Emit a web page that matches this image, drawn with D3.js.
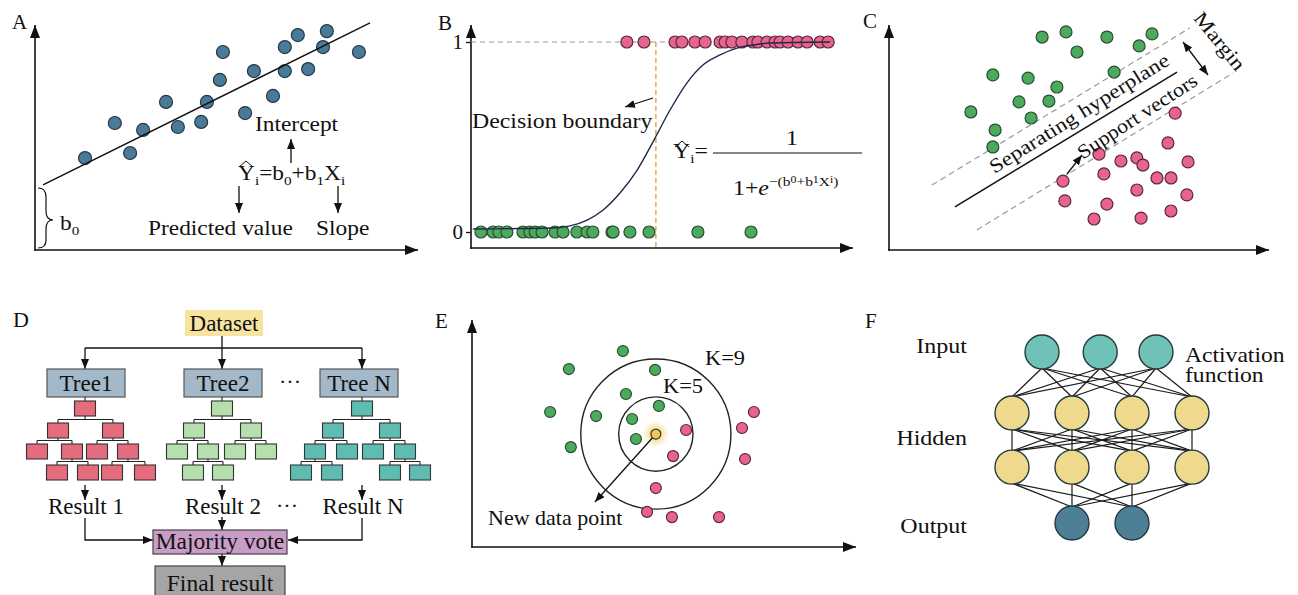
<!DOCTYPE html>
<html>
<head>
<meta charset="utf-8">
<script src="https://cdn.jsdelivr.net/npm/d3@7"></script>
<style>
  body { margin: 0; background: #fff; }
  svg { display: block; }
  text { font-family: "Liberation Serif", "Times New Roman", serif; fill: #111; }
</style>
</head>
<body>
<div id="chart"></div>
<script>
// ---- Panel A: linear regression points ----
var regX = [13.1, 20.9, 24.9, 28.3, 34.3, 37.4, 43.5, 45.0, 48.4, 49.2, 55.0, 57.3, 62.3, 65.4, 65.4, 68.8, 71.5, 75.4, 76.4, 84.8];
var regY = [41.4, 57.2, 43.7, 54.1, 66.7, 55.4, 57.7, 66.7, 76.6, 89.2, 61.7, 80.6, 69.4, 80.6, 91.4, 96.8, 81.5, 91.4, 98.6, 89.2];
var regLineX = [2.1, 87.7];
var regLineY = [29.3, 102.3];

// ---- Panel B: logistic regression ----
var classZeroX = [2.6, 5.8, 7.3, 9.4, 13.6, 15.4, 16.8, 18.6, 22.0, 24.1, 27.7, 30.4, 31.9, 36.9, 37.2, 41.6, 46.6, 59.4, 73.3];
var classOneX = [40.8, 45.3, 53.4, 55.2, 58.6, 61.3, 65.2, 66.5, 68.3, 70.9, 73.8, 75.1, 77.5, 79.6, 80.9, 83.0, 85.6, 88.0, 91.4, 93.5];
var sigmoidX = [0.5, 21.5, 25.9, 30.4, 34.6, 39.0, 43.5, 47.9, 52.1, 56.5, 60.7, 65.2, 69.6, 73.8, 78.3, 94.0];
var sigmoidP = [0.016, 0.021, 0.032, 0.063, 0.116, 0.205, 0.326, 0.484, 0.642, 0.784, 0.879, 0.932, 0.968, 0.984, 0.995, 1.0];
var boundaryX = 48.4;
var yTicksB = [0, 1];

// ---- Panel C: SVM ----
var svmGreenX = [40.4, 46.7, 49.6, 57.5, 66.0, 69.4, 27.4, 36.7, 44.3, 59.4, 34.3, 42.2, 21.6, 37.5, 28.0, 27.4];
var svmGreenY = [95.5, 97.8, 88.8, 95.5, 91.5, 96.9, 78.5, 77.1, 73.1, 79.8, 66.4, 66.8, 61.9, 59.2, 53.8, 46.2];
var svmPinkX = [75.5, 73.6, 55.4, 61.2, 65.4, 67.0, 78.9, 56.7, 70.7, 74.4, 45.9, 65.4, 78.6, 46.4, 57.5, 74.4, 54.1, 66.5];
var svmPinkY = [61.4, 48.0, 43.0, 39.9, 41.3, 38.1, 39.5, 34.1, 32.3, 32.3, 30.9, 26.9, 24.7, 22.0, 20.6, 17.5, 13.9, 14.3];
var hyperX = [17.4, 76.0], hyperY = [19.3, 79.8];
var marginUpX = [11.3, 79.4], marginUpY = [29.1, 99.6];
var marginLowX = [23.2, 90.8], marginLowY = [9.0, 79.4];

// ---- Panel D: random forest ----
var treeNames = ["Tree1", "Tree2", "Tree N"];
var resultNames = ["Result 1", "Result 2", "Result N"];
var treeColors = ["#e46c7c", "#b6dfae", "#5fbcb1"];
// [level, offset from root, parent index]
var tree1Nodes = [[0, 0, -1], [1, -27, 0], [1, 28, 0], [2, -48, 1], [2, -13, 1], [2, 12, 2], [2, 43, 2], [3, -28, 4], [3, 3, 4], [3, 27, 6], [3, 60, 6]];
var tree2Nodes = [[0, 0, -1], [1, -28, 0], [1, 29, 0], [2, -45, 1], [2, -14, 1], [2, 13, 2], [2, 44, 2], [3, -29, 4], [3, 1, 4]];
var treeNNodes = [[0, 0, -1], [1, -29, 0], [1, 28, 0], [2, -47, 1], [2, -15, 1], [2, 11, 2], [2, 43, 2], [3, -61, 3], [3, -30, 3], [3, 28, 6], [3, 58, 6]];

// ---- Panel E: KNN ----
var knnGreenX = [39.4, 25.3, 47.8, 40.2, 48.8, 20.4, 32.4, 41.8, 42.8, 25.8];
var knnGreenY = [87.1, 79.1, 78.7, 68.0, 62.7, 60.0, 58.2, 56.9, 48.0, 44.4];
var knnPinkX = [55.9, 52.5, 73.6, 70.5, 71.3, 48.0, 45.7, 52.2, 64.5];
var knnPinkY = [52.0, 40.4, 60.0, 52.9, 39.1, 26.2, 15.6, 13.3, 13.3];
var newPoint = [48.0, 50.2];
var kValues = [5, 9];
var kRadius = [9.7, 19.6];

// ---- Panel F: neural network ----
var layerNames = ["Input", "Hidden", "Output"];
var inputNodes = [-1, -0.03, 0.9];
var hiddenNodes = [-1.5, -0.5, 0.5, 1.5];
var outputNodes = [-0.5, 0.5];
var layerDepth = [0, 1.07, 2.02, 3];

var svgWidth = 1298, svgHeight = 595;
var svg = d3.select("#chart").append("svg")
  .attr("width", svgWidth)
  .attr("height", svgHeight);

var defs = svg.append("defs");
function marker(id, w, h) {
  defs.append("marker")
    .attr("id", id)
    .attr("viewBox", `0 0 ${w} ${h}`)
    .attr("refX", w).attr("refY", h / 2)
    .attr("markerWidth", w).attr("markerHeight", h)
    .attr("markerUnits", "userSpaceOnUse")
    .attr("orient", "auto-start-reverse")
    .append("path")
    .attr("d", `M0,0L${w},${h / 2}L0,${h}Z`)
    .attr("fill", "#111");
}
marker("arr", 10, 8);
marker("axarr", 13, 10);

var glow = defs.append("radialGradient").attr("id", "glow");
glow.append("stop").attr("offset", "0%").attr("stop-color", "#f3d36b").attr("stop-opacity", 0.9);
glow.append("stop").attr("offset", "60%").attr("stop-color", "#f3df97").attr("stop-opacity", 0.6);
glow.append("stop").attr("offset", "100%").attr("stop-color", "#f7ecc4").attr("stop-opacity", 0);

function label(g, x, y, s, o) {
  o = o || {};
  var t = g.append("text")
    .attr("transform", `translate(${x},${y}) rotate(${o.rot || 0}) scale(${o.sx || 1.17},1)`)
    .attr("font-size", o.size || 20)
    .attr("text-anchor", o.anchor || "start")
    .text(s);
  if (o.dy) t.attr("dy", o.dy);
  return t;
}

function arrow(g, x1, y1, x2, y2, both) {
  var l = g.append("line")
    .attr("x1", x1).attr("y1", y1).attr("x2", x2).attr("y2", y2)
    .attr("stroke", "#111").attr("stroke-width", 1.3)
    .attr("marker-end", "url(#arr)");
  if (both) l.attr("marker-start", "url(#arr)");
  return l;
}

function axes(g, x0, y0, xEnd, yEnd) {
  g.append("line").attr("x1", x0).attr("y1", y0 + 0.8).attr("x2", x0).attr("y2", yEnd)
    .attr("stroke", "#111").attr("stroke-width", 1.6).attr("marker-end", "url(#axarr)");
  g.append("line").attr("x1", x0 - 0.8).attr("y1", y0).attr("x2", xEnd).attr("y2", y0)
    .attr("stroke", "#111").attr("stroke-width", 1.6).attr("marker-end", "url(#axarr)");
}

function dots(g, xs, ys, sx, sy, r, fill, stroke) {
  g.selectAll(null)
    .data(d3.zip(xs, ys))
    .enter()
    .append("circle")
    .attr("cx", d => sx(d[0]))
    .attr("cy", d => sy(d[1]))
    .attr("r", r)
    .attr("fill", fill)
    .attr("stroke", stroke)
    .attr("stroke-width", 1.2);
}

function segment(g, xs, ys, sx, sy) {
  return g.append("path")
    .datum(d3.zip(xs, ys))
    .attr("d", d3.line().x(d => sx(d[0])).y(d => sy(d[1])))
    .attr("fill", "none");
}

var BLUE = "#4a7a98", GREEN = "#4caa5c", PINK = "#e8648e";

// ================= Panel A =================
var gA = svg.append("g");
var xA = d3.scaleLinear().domain([0, 100]).range([35, 417]);
var yA = d3.scaleLinear().domain([0, 100]).range([250, 28]);
label(gA, 12, 29, "A", { sx: 1.05 });
axes(gA, xA(0), yA(0), 418, 25);
dots(gA, regX, regY, xA, yA, 6.5, BLUE, "#24394a");
segment(gA, regLineX, regLineY, xA, yA).attr("stroke", "#111").attr("stroke-width", 1.4);

label(gA, 255, 131, "Intercept");
arrow(gA, 291, 163, 291, 139);
var fA = label(gA, 238, 180, "");
fA.append("tspan").text("Y");
fA.append("tspan").attr("font-size", 13).attr("dy", 5).text("i");
fA.append("tspan").attr("dy", -5).text("=b");
fA.append("tspan").attr("font-size", 13).attr("dy", 5).text("0");
fA.append("tspan").attr("dy", -5).text("+b");
fA.append("tspan").attr("font-size", 13).attr("dy", 5).text("1");
fA.append("tspan").attr("dy", -5).text("X");
fA.append("tspan").attr("font-size", 13).attr("dy", 5).text("i");
gA.append("path").attr("d", "M239,167L246,161L253,167").attr("fill", "none").attr("stroke", "#111").attr("stroke-width", 1);
arrow(gA, 239, 186, 239, 213);
arrow(gA, 338, 186, 338, 213);
label(gA, 148, 235, "Predicted value");
label(gA, 316, 235, "Slope");
gA.append("path")
  .attr("d", "M38,188Q46,188 46,197L46,211Q46,220 53,220Q46,220 46,229L46,240Q46,248 38,248")
  .attr("fill", "none").attr("stroke", "#111").attr("stroke-width", 1.2);
var b0 = label(gA, 60, 230, "b");
b0.append("tspan").attr("font-size", 13).attr("dy", 5).text("0");

// ================= Panel B =================
var gB = svg.append("g");
var xB = d3.scaleLinear().domain([0, 100]).range([471, 853]);
var yB = d3.scaleLinear().domain([0, 1]).range([232, 42]);
label(gB, 438, 30, "B", { sx: 1.05 });
axes(gB, 471, 248, 853, 25);
var axB = gB.append("g")
  .attr("transform", "translate(471,0)")
  .call(d3.axisLeft(yB).tickValues(yTicksB).tickSize(5).tickPadding(3).tickFormat(d3.format("d")));
axB.select(".domain").remove();
axB.attr("font-family", null).attr("font-size", 21);
axB.selectAll("line").attr("stroke", "#111").attr("stroke-width", 1.3);
axB.selectAll("text").attr("fill", "#111");

gB.append("line")
  .attr("x1", xB(0)).attr("x2", xB(93.5)).attr("y1", yB(1)).attr("y2", yB(1))
  .attr("stroke", "#9a9a9a").attr("stroke-width", 1.2).attr("stroke-dasharray", "5,4");
gB.append("line")
  .attr("x1", xB(boundaryX)).attr("x2", xB(boundaryX)).attr("y1", yB(1)).attr("y2", 248)
  .attr("stroke", "#e8a33a").attr("stroke-width", 1.4).attr("stroke-dasharray", "5,3");
dots(gB, classZeroX, classZeroX.map(() => 0), xB, yB, 6, GREEN, "#2c4d33");
dots(gB, classOneX, classOneX.map(() => 1), xB, yB, 6, PINK, "#5a2a3a");
gB.append("path")
  .datum(d3.zip(sigmoidX, sigmoidP))
  .attr("d", d3.line().curve(d3.curveMonotoneX).x(d => xB(d[0])).y(d => yB(d[1])))
  .attr("fill", "none").attr("stroke", "#1e2a4a").attr("stroke-width", 1.4);

label(gB, 472, 128, "Decision boundary", { sx: 1.19 });
arrow(gB, 653, 98, 625, 107);
var fB = label(gB, 673, 158, "", { sx: 1.19 });
fB.append("tspan").text("Y");
fB.append("tspan").attr("font-size", 13).attr("dy", 5).text("i");
fB.append("tspan").attr("dy", -5).text("=");
gB.append("path").attr("d", "M675,147L682,141L689,147").attr("fill", "none").attr("stroke", "#111").attr("stroke-width", 1);
gB.append("line").attr("x1", 713).attr("x2", 862).attr("y1", 153).attr("y2", 153)
  .attr("stroke", "#111").attr("stroke-width", 1.2);
label(gB, 792, 145, "1", { anchor: "middle", sx: 1.19 });
var den = label(gB, 733, 195, "1+", { sx: 1.19 });
den.append("tspan").attr("font-style", "italic").text("e");
den.append("tspan").attr("font-size", 13).attr("dy", -9).text("\u2212(b");
den.append("tspan").attr("font-size", 10).attr("dy", -3).text("0");
den.append("tspan").attr("font-size", 13).attr("dy", 3).text("+b");
den.append("tspan").attr("font-size", 10).attr("dy", -3).text("1");
den.append("tspan").attr("font-size", 13).attr("dy", 3).text("X");
den.append("tspan").attr("font-size", 10).attr("dy", -3).text("i");
den.append("tspan").attr("font-size", 13).attr("dy", 3).text(")");

// ================= Panel C =================
var gC = svg.append("g");
var xC = d3.scaleLinear().domain([0, 100]).range([889, 1268]);
var yC = d3.scaleLinear().domain([0, 100]).range([250, 27]);
label(gC, 863, 28, "C", { sx: 1.05 });
axes(gC, 889, 250, 1269, 25);
segment(gC, marginUpX, marginUpY, xC, yC).attr("stroke", "#9a9a9a").attr("stroke-width", 1.2).attr("stroke-dasharray", "6,4");
segment(gC, marginLowX, marginLowY, xC, yC).attr("stroke", "#9a9a9a").attr("stroke-width", 1.2).attr("stroke-dasharray", "6,4");
segment(gC, hyperX, hyperY, xC, yC).attr("stroke", "#111").attr("stroke-width", 1.5);
dots(gC, svmGreenX, svmGreenY, xC, yC, 6, GREEN, "#2c4d33");
dots(gC, svmPinkX, svmPinkY, xC, yC, 6, PINK, "#5a2a3a");
label(gC, 1079, 113, "Separating hyperplane", { rot: -32, anchor: "middle", dy: "0.35em", sx: 1.16 });
label(gC, 1137, 116, "Support vectors", { rot: -33, anchor: "middle", dy: "0.35em", sx: 1.1 });
label(gC, 1220, 41, "Margin", { rot: 51, anchor: "middle", dy: "0.35em", sx: 1.18 });
arrow(gC, 1183, 42, 1208, 75, true);
arrow(gC, 1067, 174, 1082, 155);

// ================= Panel D =================
var gD = svg.append("g");
label(gD, 13, 327, "D", { sx: 1.05, size: 21 });
var dsBox = gD.append("g");
dsBox.append("rect").attr("x", 185).attr("y", 310).attr("width", 78).attr("height", 26)
  .attr("fill", "#f6e4a0");
label(dsBox, 224, 331, "Dataset", { anchor: "middle", size: 23, sx: 1 });

var treeRootX = [85, 222, 362];
var treeSets = [tree1Nodes, tree2Nodes, treeNNodes];
var levelTop = [401, 423, 444, 465];
var boxW = 21, boxH = 15;

gD.append("line").attr("x1", 222).attr("x2", 222).attr("y1", 336).attr("y2", 348).attr("stroke", "#111").attr("stroke-width", 1.3);
gD.append("line").attr("x1", treeRootX[0]).attr("x2", treeRootX[2]).attr("y1", 348).attr("y2", 348).attr("stroke", "#111").attr("stroke-width", 1.3);
treeRootX.forEach(function(x) { arrow(gD, x, 348, x, 369); });

treeNames.forEach(function(name, i) {
  var cx = treeRootX[i] + (i === 2 ? -3 : 1);
  gD.append("rect").attr("x", cx - 39).attr("y", 369).attr("width", 78).attr("height", 28)
    .attr("fill", "#a3b8c8").attr("stroke", "#555").attr("stroke-width", 1.2);
  label(gD, cx, 391, name, { anchor: "middle", size: 23, sx: 1 });
  gD.append("line").attr("x1", treeRootX[i]).attr("x2", treeRootX[i]).attr("y1", 397).attr("y2", 401).attr("stroke", "#111");

  var nodes = treeSets[i];
  var rootX = treeRootX[i];
  // connectors
  nodes.forEach(function(n, j) {
    var kids = nodes.filter(c => c[2] === j);
    if (!kids.length) return;
    var px = rootX + n[1];
    var yb = levelTop[n[0]] + boxH;
    var ym = levelTop[n[0] + 1] - 3.5;
    var kx = kids.map(c => rootX + c[1]);
    gD.append("path")
      .attr("d", `M${px},${yb}V${ym}M${d3.min(kx)},${ym}H${d3.max(kx)}` + kx.map(x => `M${x},${ym}V${levelTop[n[0] + 1]}`).join(""))
      .attr("fill", "none").attr("stroke", "#222").attr("stroke-width", 1.1);
  });
  gD.selectAll(null).data(nodes).enter().append("rect")
    .attr("x", d => rootX + d[1] - boxW / 2)
    .attr("y", d => levelTop[d[0]])
    .attr("width", boxW).attr("height", boxH)
    .attr("fill", treeColors[i]).attr("stroke", "#333").attr("stroke-width", 1.1);

  arrow(gD, rootX, 485, rootX, 500);
  label(gD, rootX + 1, 514, resultNames[i], { anchor: "middle", size: 23, sx: 1 });
});
label(gD, 290, 389, "\u00b7\u00b7\u00b7", { anchor: "middle", size: 22, sx: 1 });
label(gD, 287, 513, "\u00b7\u00b7\u00b7", { anchor: "middle", size: 22, sx: 1 });

gD.append("path").attr("d", `M${treeRootX[0]},518V540H145`).attr("fill", "none").attr("stroke", "#111").attr("stroke-width", 1.3);
arrow(gD, 144, 540, 153, 540);
gD.append("path").attr("d", `M${treeRootX[2]},518V540H296`).attr("fill", "none").attr("stroke", "#111").attr("stroke-width", 1.3);
arrow(gD, 297, 540, 288, 540);
arrow(gD, 222, 517, 222, 530);
gD.append("rect").attr("x", 153).attr("y", 530).attr("width", 134).attr("height", 24)
  .attr("fill", "#c99dc8").attr("stroke", "#444").attr("stroke-width", 1.2);
label(gD, 220, 549, "Majority vote", { anchor: "middle", size: 23.5, sx: 1 });
arrow(gD, 222, 554, 222, 566);
gD.append("rect").attr("x", 155).attr("y", 566).attr("width", 130).attr("height", 32)
  .attr("fill", "#a5a5a5").attr("stroke", "#444").attr("stroke-width", 1.2);
label(gD, 220, 591, "Final result", { anchor: "middle", size: 23.5, sx: 1 });

// ================= Panel E =================
var gE = svg.append("g");
var xE = d3.scaleLinear().domain([0, 100]).range([472, 855]);
var yE = d3.scaleLinear().domain([0, 100]).range([547, 322]);
label(gE, 435, 328, "E", { sx: 1.05 });
axes(gE, 472, 547, 856, 320);
gE.append("circle").attr("cx", xE(newPoint[0])).attr("cy", yE(newPoint[1])).attr("r", 14).attr("fill", "url(#glow)");
gE.selectAll(null).data(kRadius).enter().append("circle")
  .attr("cx", xE(newPoint[0])).attr("cy", yE(newPoint[1]))
  .attr("r", d => xE(d) - xE(0))
  .attr("fill", "none").attr("stroke", "#222").attr("stroke-width", 1.4);
dots(gE, knnGreenX, knnGreenY, xE, yE, 5.5, GREEN, "#2c4d33");
dots(gE, knnPinkX, knnPinkY, xE, yE, 5.5, PINK, "#5a2a3a");
arrow(gE, xE(newPoint[0]), yE(newPoint[1]), xE(32.1), yE(20.0));
dots(gE, [newPoint[0]], [newPoint[1]], xE, yE, 5, "#f7c45a", "#333");
label(gE, 705, 365, "K=" + kValues[1], { sx: 1.12 });
label(gE, 663, 393, "K=" + kValues[0], { sx: 1.12 });
label(gE, 488, 525, "New data point", { sx: 1.1 });

// ================= Panel F =================
var gF = svg.append("g");
var xF = d3.scaleLinear().domain([-2, 2]).range([982, 1222]);
var yF = d3.scaleLinear().domain([0, 3]).range([352, 523]);
var nodeR = 17;
label(gF, 865, 328, "F", { sx: 1.05 });
var layers = [
  { xs: inputNodes, depth: layerDepth[0], fill: "#6fc2b6" },
  { xs: hiddenNodes, depth: layerDepth[1], fill: "#eed98c" },
  { xs: hiddenNodes, depth: layerDepth[2], fill: "#eed98c" },
  { xs: outputNodes, depth: layerDepth[3], fill: "#4d7f97" }
];
for (var li = 0; li < layers.length - 1; li++) {
  var a = layers[li], b = layers[li + 1];
  var pairs = d3.cross(a.xs, b.xs);
  gF.selectAll(null).data(pairs).enter().append("line")
    .attr("x1", d => xF(d[0])).attr("y1", yF(a.depth) + nodeR - 1)
    .attr("x2", d => xF(d[1])).attr("y2", yF(b.depth) - nodeR + 1)
    .attr("stroke", "#1a1a1a").attr("stroke-width", 1.2);
}
layers.forEach(function(L) {
  gF.selectAll(null).data(L.xs).enter().append("circle")
    .attr("cx", d => xF(d)).attr("cy", yF(L.depth)).attr("r", nodeR)
    .attr("fill", L.fill).attr("stroke", "#263a40").attr("stroke-width", 1.4);
});
label(gF, 967, 353, layerNames[0], { anchor: "end", sx: 1.2 });
label(gF, 967, 445, layerNames[1], { anchor: "end", sx: 1.2 });
label(gF, 967, 533, layerNames[2], { anchor: "end", sx: 1.2 });
label(gF, 1185, 362, "Activation", { sx: 1.18 });
label(gF, 1185, 382, "function", { sx: 1.18 });
</script>
</body>
</html>
